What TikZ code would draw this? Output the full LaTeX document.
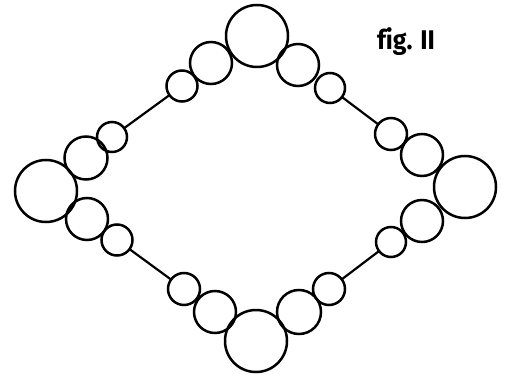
\documentclass[tikz,border=0pt]{standalone}
\usepackage{fontspec}
\newfontfamily\figfont{Fira Sans}[Ligatures={NoCommon}]
\begin{document}
\begin{tikzpicture}[x=1pt,y=-1pt,
  bead/.style={circle,draw,line width=2.5pt,inner sep=0pt,outer sep=0pt,minimum size=#1*2pt},
  link/.style={line width=2.2pt}]
\useasboundingbox (0,0) rectangle (508,374);
% top
\node[bead=31] (T) at (257,36) {};
\node[bead=21] (Tl2) at (211,63) {};
\node[bead=15.5] (Tl1) at (182,86) {};
\node[bead=21] (Tr2) at (298,65) {};
\node[bead=15] (Tr1) at (330,88) {};
% left
\node[bead=31] (L) at (46,191) {};
\node[bead=21.5] (Lu2) at (86,158) {};
\node[bead=15] (Lu1) at (112,137) {};
\node[bead=21] (Ld2) at (87,219) {};
\node[bead=15.5] (Ld1) at (117,240) {};
% right
\node[bead=31] (R) at (465,187) {};
\node[bead=21] (Ru2) at (422,155) {};
\node[bead=16] (Ru1) at (391,134) {};
\node[bead=21] (Rd2) at (422,221) {};
\node[bead=15] (Rd1) at (391,242) {};
% bottom
\node[bead=31] (B) at (256,341) {};
\node[bead=21] (Bl2) at (215,312) {};
\node[bead=16] (Bl1) at (184,289) {};
\node[bead=22] (Br2) at (299,312) {};
\node[bead=16] (Br1) at (329,289) {};
% links
\draw[link] (Tl1) -- (Lu1);
\draw[link] (Tr1) -- (Ru1);
\draw[link] (Bl1) -- (Ld1);
\draw[link] (Br1) -- (Rd1);
% label
\node[font=\figfont\bfseries\fontsize{27}{30}\selectfont,inner sep=0pt,xscale=0.92] (lab) at (406,42) {fig. II};
\end{tikzpicture}
\end{document}
